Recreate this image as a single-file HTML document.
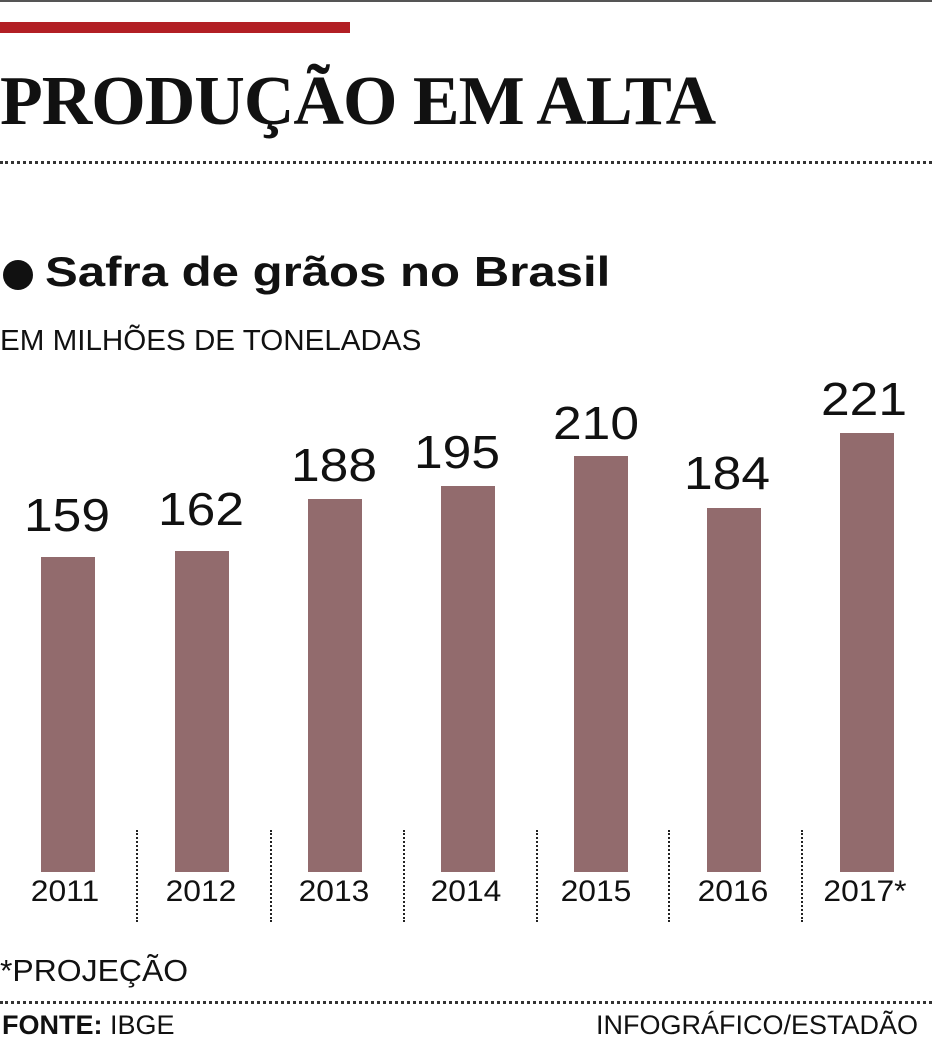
<!DOCTYPE html>
<html><head><meta charset="utf-8"><style>
body{margin:0;width:932px;height:1044px;background:#fff;position:relative;overflow:hidden;font-family:"Liberation Sans",sans-serif;color:#111}
.a{position:absolute;white-space:nowrap}
.bar{position:absolute;background:#926b6d;width:54px;bottom:172px}
.v{position:absolute;width:140px;text-align:center;font-size:46px;transform:scaleX(1.12)}
.y{position:absolute;width:130px;text-align:center;font-size:30px;top:875px;transform:scaleX(1.06)}
.d{position:absolute;top:830px;height:92px;border-left:2px dotted #222}
.h{position:absolute;left:0;width:932px;border-top:3px dotted #333}
</style></head><body>
<div class="a" style="left:0;top:0;width:932px;height:2px;background:#555"></div>
<div class="a" style="left:0;top:22px;width:350px;height:11px;background:#b21f24"></div>
<div class="a" style="left:0;top:62px;font-family:'Liberation Serif',serif;font-weight:bold;font-size:70px;letter-spacing:-1px;transform-origin:0 0;transform:scaleX(1.0)">PRODUÇÃO EM ALTA</div>
<div class="h" style="top:161px"></div>
<div class="a" style="left:3px;top:260px;width:30px;height:30px;border-radius:50%;background:#111"></div>
<div class="a" style="left:45px;top:248px;font-weight:bold;font-size:42px;transform-origin:0 0;transform:scaleX(1.17)">Safra de grãos no Brasil</div>
<div class="a" style="left:0;top:325px;font-size:29px;transform-origin:0 0;transform:scaleX(1.02)">EM MILHÕES DE TONELADAS</div>

<div class="bar" style="left:41px;top:557px"></div>
<div class="bar" style="left:175px;top:551px"></div>
<div class="bar" style="left:308px;top:499px"></div>
<div class="bar" style="left:441px;top:486px"></div>
<div class="bar" style="left:574px;top:456px"></div>
<div class="bar" style="left:707px;top:508px"></div>
<div class="bar" style="left:840px;top:433px"></div>

<div class="v" style="left:-3px;top:488px">159</div>
<div class="v" style="left:131px;top:482px">162</div>
<div class="v" style="left:264px;top:438px">188</div>
<div class="v" style="left:387px;top:425px">195</div>
<div class="v" style="left:526px;top:396px">210</div>
<div class="v" style="left:657px;top:446px">184</div>
<div class="v" style="left:794px;top:372px">221</div>

<div class="y" style="left:0px">2011</div>
<div class="y" style="left:136px">2012</div>
<div class="y" style="left:269px">2013</div>
<div class="y" style="left:401px">2014</div>
<div class="y" style="left:531px">2015</div>
<div class="y" style="left:668px">2016</div>
<div class="y" style="left:800px">2017*</div>

<div class="d" style="left:136px"></div>
<div class="d" style="left:270px"></div>
<div class="d" style="left:403px"></div>
<div class="d" style="left:536px"></div>
<div class="d" style="left:668px"></div>
<div class="d" style="left:801px"></div>

<div class="a" style="left:0;top:953px;font-size:31px;transform-origin:0 0;transform:scaleX(1.03)">*PROJEÇÃO</div>
<div class="h" style="top:1001px"></div>
<div class="a" style="left:2px;top:1010px;font-size:27px;transform-origin:0 0;transform:scaleX(1.0)"><b>FONTE:</b> IBGE</div>
<div class="a" style="right:14px;top:1010px;font-size:27px;transform-origin:100% 0;transform:scaleX(1.0)">INFOGRÁFICO/ESTADÃO</div>
</body></html>
